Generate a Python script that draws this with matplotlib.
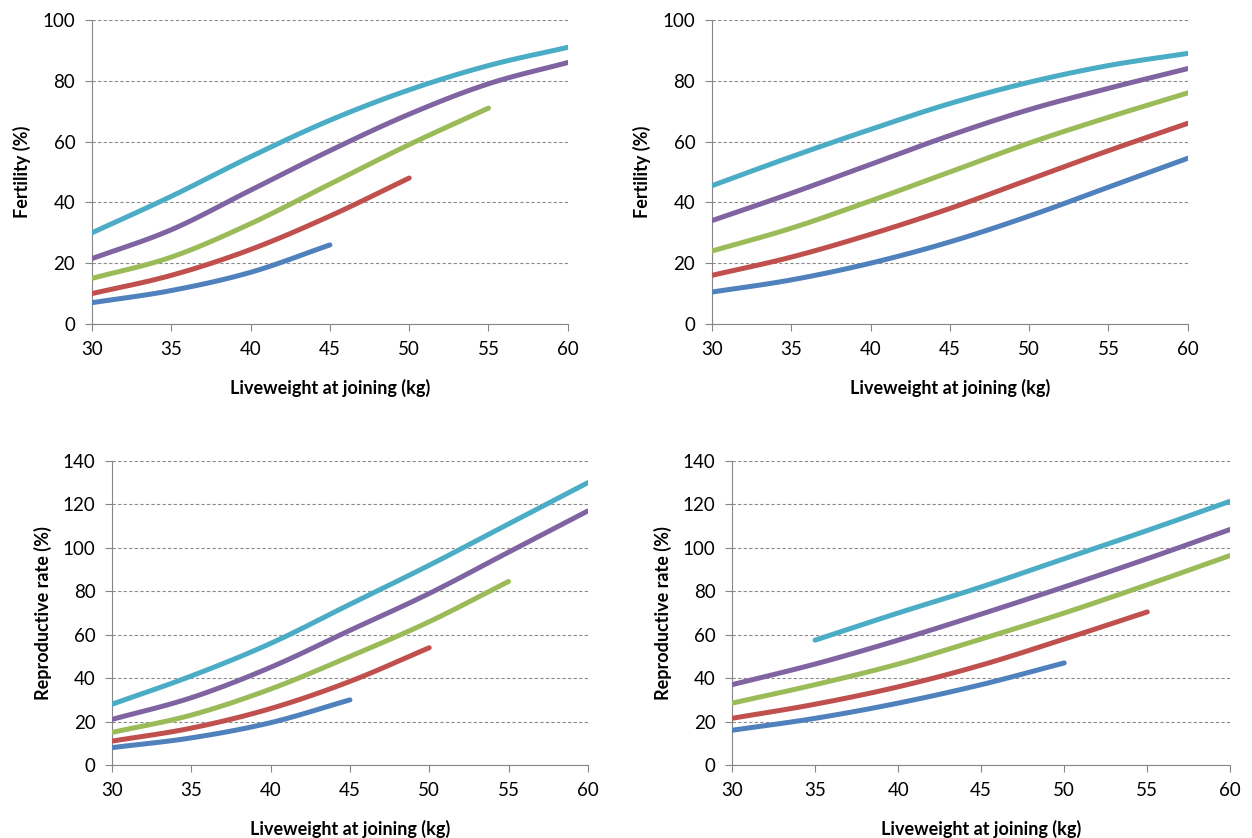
import numpy as np
import matplotlib
matplotlib.use("Agg")
import matplotlib.pyplot as plt

plt.rcParams['font.family'] = ['Lato', 'DejaVu Sans']

# liveweight at joining (kg)
weights = [30, 35, 40, 45, 50, 55, 60]

# fertility (%) - left panel
fert_a_blue = [7, 11, 17, 26]
fert_a_red = [10, 16, 24.5, 35.5, 48]
fert_a_green = [15, 22, 33, 46, 59, 71]
fert_a_purple = [21.5, 31, 44, 57, 69, 79, 86]
fert_a_cyan = [30, 42, 55, 67, 77, 85, 91]

# fertility (%) - right panel
fert_b_blue = [10.5, 14.5, 20, 27, 35.5, 45, 54.5]
fert_b_red = [16, 22, 29.5, 38, 47.5, 57, 66]
fert_b_green = [24, 31.5, 40.5, 50, 59.5, 68, 76]
fert_b_purple = [34, 43, 52.5, 62, 70.5, 77.5, 84]
fert_b_cyan = [45.5, 55, 64, 72.5, 79.5, 85, 89]

# reproductive rate (%) - left panel
repr_a_blue = [8, 12.5, 19.5, 30]
repr_a_red = [11, 17, 26, 38.5, 54]
repr_a_green = [15, 23, 35, 50, 66, 84.5]
repr_a_purple = [21, 31, 45, 62, 79, 98, 117]
repr_a_cyan = [28, 41, 56, 74, 92, 111, 130]

# reproductive rate (%) - right panel
repr_b_blue = [16, 21.5, 28.5, 37, 47]
repr_b_red = [21.5, 28, 36, 46, 58, 70.5]
repr_b_green = [28.5, 37, 46.5, 58, 70, 83, 96.5]
repr_b_purple = [37, 46.5, 57.5, 69.5, 82, 95, 108.5]
repr_b_cyan = [57.5, 70, 82, 95, 108, 121.5]   # starts at 35 kg

colours = ['#4F81BD', '#C0504D', '#9BBB59', '#8064A2', '#4BACC6']


def smooth(x, y, n=20):
    # Catmull-Rom curve through the points, like a smoothed line in a spreadsheet
    x = np.asarray(x, float)
    y = np.asarray(y, float)
    if len(x) < 3:
        return x, y
    px = np.concatenate([[2 * x[0] - x[1]], x, [2 * x[-1] - x[-2]]])
    py = np.concatenate([[2 * y[0] - y[1]], y, [2 * y[-1] - y[-2]]])
    t = np.linspace(0, 1, n)[:, None]
    xs, ys = [], []
    for i in range(1, len(px) - 2):
        for p, out in ((px, xs), (py, ys)):
            p0, p1, p2, p3 = p[i - 1], p[i], p[i + 1], p[i + 2]
            seg = 0.5 * (2 * p1 + (-p0 + p2) * t + (2 * p0 - 5 * p1 + 4 * p2 - p3) * t ** 2
                         + (-p0 + 3 * p1 - 3 * p2 + p3) * t ** 3)
            out.append(seg.ravel())
    return np.concatenate(xs), np.concatenate(ys)


def draw(ax, series, ymax, ylabel, starts=None):
    for k, (vals, c) in enumerate(zip(series, colours)):
        s = 0 if starts is None else starts[k]
        xs, ys = smooth(weights[s:s + len(vals)], vals)
        ax.plot(xs, ys, color=c, lw=3.6, solid_capstyle='round', zorder=3)
    ax.set_xlim(30, 60)
    ax.set_ylim(0, ymax)
    ax.set_xticks(range(30, 61, 5))
    ax.set_yticks(range(0, ymax + 1, 20))
    ax.yaxis.grid(True, ls=(0, (3, 2)), color='#8c8c8c', lw=0.8)
    ax.set_axisbelow(True)
    for side in ('top', 'right'):
        ax.spines[side].set_visible(False)
    for side in ('left', 'bottom'):
        ax.spines[side].set_color('#868686')
    ax.tick_params(direction='out', length=5, color='#868686', labelsize=13.5, pad=7,
                   labelcolor='black')
    ax.set_xlabel('Liveweight at joining (kg)', fontsize=13, fontweight='bold', labelpad=15)
    ax.set_ylabel(ylabel, fontsize=13, fontweight='bold', labelpad=8)


fig = plt.figure(figsize=(12.52, 8.38), dpi=100)
ax1 = fig.add_axes([0.0735, 0.6134, 0.380, 0.3628])
ax2 = fig.add_axes([0.5687, 0.6134, 0.380, 0.3628])
ax3 = fig.add_axes([0.0895, 0.0871, 0.380, 0.3628])
ax4 = fig.add_axes([0.5847, 0.0871, 0.398, 0.3628])

draw(ax1, [fert_a_blue, fert_a_red, fert_a_green, fert_a_purple, fert_a_cyan], 100, 'Fertility (%)')
draw(ax2, [fert_b_blue, fert_b_red, fert_b_green, fert_b_purple, fert_b_cyan], 100, 'Fertility (%)')
draw(ax3, [repr_a_blue, repr_a_red, repr_a_green, repr_a_purple, repr_a_cyan], 140, 'Reproductive rate (%)')
draw(ax4, [repr_b_blue, repr_b_red, repr_b_green, repr_b_purple, repr_b_cyan], 140, 'Reproductive rate (%)',
     starts=[0, 0, 0, 0, 1])

fig.savefig('out.png', dpi=100)
